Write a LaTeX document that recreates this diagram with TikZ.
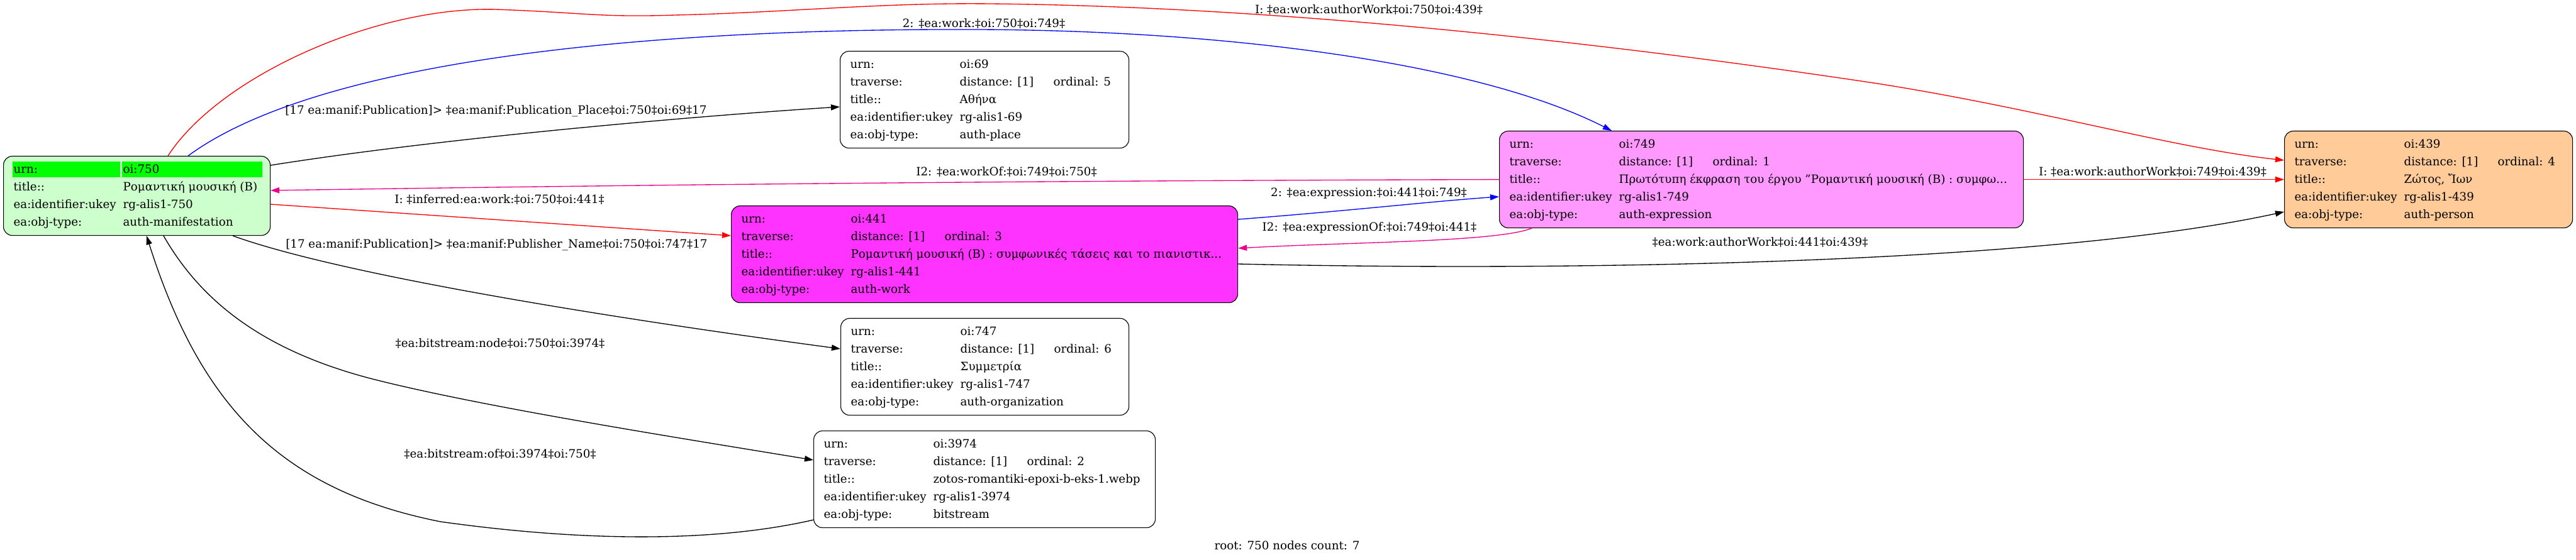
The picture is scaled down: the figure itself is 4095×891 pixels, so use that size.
\documentclass[tikz,border=0pt]{standalone}
\usepackage{fontspec}
\setmainfont{DejaVu Serif}
\usetikzlibrary{arrows.meta,calc}
\definecolor{hdrgreen}{RGB}{0,255,0}
\definecolor{manifbg}{RGB}{204,255,204}
\definecolor{exprbg}{RGB}{255,153,255}
\definecolor{workbg}{RGB}{255,51,255}
\definecolor{personbg}{RGB}{255,204,153}
\newlength{\pxu}
\setlength{\pxu}{0.025cm}
\newcommand{\recfont}{\fontsize{13}{19.92}\selectfont}
% record body: width, urn, ordinal, title, ukey, type
\newcommand{\rec}[6]{\makebox[#1\pxu][l]{\begin{tabular}{@{}p{174\pxu}@{}p{149\pxu}@{}l@{}}
urn: & #2 & \\
traverse: & distance: [1] & ordinal: #3\\
title:: & \multicolumn{2}{@{}l@{}}{#4}\\
ea:identifier:ukey & \multicolumn{2}{@{}l@{}}{#5}\\
ea:obj-type: & \multicolumn{2}{@{}l@{}}{#6}
\end{tabular}}}

\begin{document}
\begin{tikzpicture}[x=0.025cm, y=-0.025cm,
  recbox/.style={draw, rounded corners=14\pxu, anchor=north west, inner xsep=16\pxu,
    inner ysep=7\pxu, font=\recfont, line width=0.8pt},
  edge/.style={line width=0.95pt, -{Triangle[length=10pt,width=6.6pt]}},
  lbl/.style={font=\recfont, inner sep=0pt}]
  \useasboundingbox[fill=white] (0,0) rectangle (4095,891);

  % records
  \node[recbox, fill=manifbg, path picture={
      \fill[hdrgreen, sharp corners] ($(path picture bounding box.north west)+(14,8)$) rectangle ++(171,25);
      \fill[hdrgreen, sharp corners] ($(path picture bounding box.north west)+(188,8)$) rectangle ++(223,25);}]
    (n750) at (5,248) {\makebox[392\pxu][l]{\begin{tabular}{@{}p{174\pxu}@{}l@{}}
      urn: & oi:750\\ title:: & Ρομαντική μουσική (B)\\
      ea:identifier:ukey & rg-alis1-750\\ ea:obj-type: & auth-manifestation\end{tabular}}};
  \node[recbox] (n69) at (1335,81) {\rec{427}{oi:69}{5}{Αθήνα}{rg-alis1-69}{auth-place}};
  \node[recbox, fill=exprbg] (n749) at (2383,208)
    {\rec{801}{oi:749}{1}{Πρωτότυπη έκφραση του έργου "Ρομαντική μουσική (B) : συμφω...}{rg-alis1-749}{auth-expression}};
  \node[recbox, fill=personbg] (n439) at (3631,208) {\rec{426}{oi:439}{4}{Ζώτος, Ἴων}{rg-alis1-439}{auth-person}};
  \node[recbox, fill=workbg] (n441) at (1162,327)
    {\rec{773}{oi:441}{3}{Ρομαντική μουσική (B) : συμφωνικές τάσεις και το πιανιστικ...}{rg-alis1-441}{auth-work}};
  \node[recbox] (n747) at (1336,506) {\rec{426}{oi:747}{6}{Συμμετρία}{rg-alis1-747}{auth-organization}};
  \node[recbox] (n3974) at (1293,685)
    {\rec{511}{oi:3974}{2}{zotos-romantiki-epoxi-b-eks-1.webp}{rg-alis1-3974}{bitstream}};

  % links
  \draw[edge, red] ($(n750.north west)+(262,0)$) .. controls (350,120) and (600,10) .. (788,15)
    .. controls (930,20) and (950,28) .. (1073,24) .. controls (1250,20) and (1400,4) .. (1573,6)
    .. controls (2000,10) and (2500,60) .. (2985,133)
    .. controls (3250,175) and (3450,235) .. ($(n439.north west)+(0,47)$);
  \draw[edge, blue] ($(n750.north west)+(294,0)$) .. controls (500,100) and (1000,45) .. (1550,47)
    .. controls (1950,48) and (2350,100) .. ($(n749.north west)+(179,0)$);
  \draw[edge] ($(n750.north east)+(0,15)$) .. controls (700,220) and (1100,185) .. ($(n69.north west)+(0,89)$);
  \draw[edge, magenta] (n749.west) .. controls (1500,288) and (900,296) .. ($(n750.north east)+(0,55)$);
  \draw[edge, red] ($(n750.north east)+(0,77)$) -- ($(n441.north west)+(0,48)$);
  \draw[edge] ($(n750.south west)+(365,0)$) .. controls (550,440) and (1000,510) .. ($(n747.north west)+(0,49)$);
  \draw[edge] ($(n750.south west)+(255,0)$) .. controls (320,480) and (420,560) .. (600,605)
    .. controls (780,650) and (1100,700) .. ($(n3974.north west)+(0,47)$);
  \draw[edge] ($(n3974.south west)+(0,-13)$) .. controls (1150,860) and (950,865) .. (700,830)
    .. controls (450,780) and (320,650) .. ($(n750.south west)+(228,0)$);
  \draw[edge, blue] ($(n441.north east)+(0,22)$) .. controls (2150,335) and (2280,320) .. ($(n749.north west)+(0,105)$);
  \draw[edge, magenta] ($(n749.south west)+(52,0)$) .. controls (2380,385) and (2150,385) .. ($(n441.north east)+(0,68)$);
  \draw[edge, red] (n749.east) -- (n439.west);
  \draw[edge] ($(n441.north east)+(0,93)$) .. controls (2500,432) and (3250,420) .. ($(n439.north west)+(0,129)$);

  % link labels
  \node[lbl] (l1) at (2176,15) {I: ‡ea:work:authorWork‡oi:750‡oi:439‡};
  \node[lbl] (l2) at (1564,37) {2: ‡ea:work:‡oi:750‡oi:749‡};
  \node[lbl, anchor=west] (l3) at (453,177) {[17 ea:manif:Publication]> ‡ea:manif:Publication\_Place‡oi:750‡oi:69‡17};
  \node[lbl] (l4) at (1600,273) {I2: ‡ea:workOf:‡oi:749‡oi:750‡};
  \node[lbl, anchor=west] (l5) at (627,317) {I: ‡inferred:ea:work:‡oi:750‡oi:441‡};
  \node[lbl, anchor=west] (l6) at (454,390) {[17 ea:manif:Publication]> ‡ea:manif:Publisher\_Name‡oi:750‡oi:747‡17};
  \node[lbl] (l7) at (795,546) {‡ea:bitstream:node‡oi:750‡oi:3974‡};
  \node[lbl] (l8) at (795,722) {‡ea:bitstream:of‡oi:3974‡oi:750‡};
  \node[lbl] (l9) at (2176,308) {2: ‡ea:expression:‡oi:441‡oi:749‡};
  \node[lbl] (l10) at (2177,362) {I2: ‡ea:expressionOf:‡oi:749‡oi:441‡};
  \node[lbl] (l11) at (3422,273) {I: ‡ea:work:authorWork‡oi:749‡oi:439‡};
  \node[lbl] (l12) at (2798,385) {‡ea:work:authorWork‡oi:441‡oi:439‡};

  \node[lbl] (foot) at (2046,868) {root: 750 nodes count: 7};
\end{tikzpicture}
\end{document}
